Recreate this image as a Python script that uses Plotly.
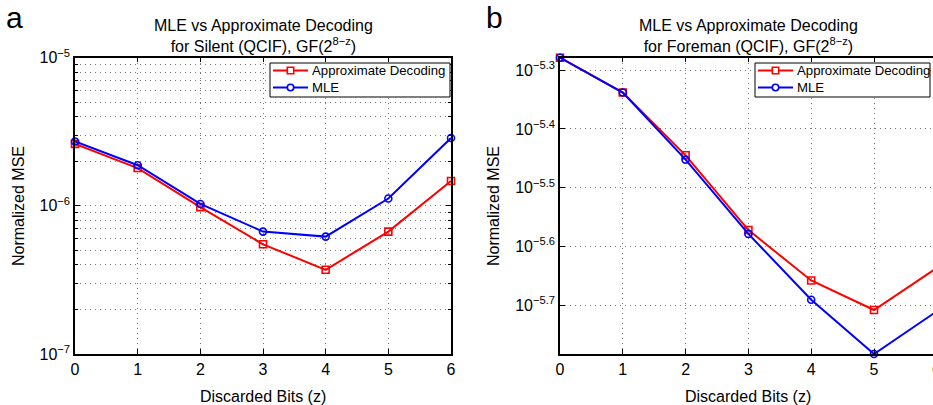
import numpy as np
import plotly.graph_objects as go

# ---------------- data ----------------
z_bits = [0, 1, 2, 3, 4, 5, 6]

silent_approx = [2.62e-6, 1.80e-6, 9.8e-7, 5.5e-7, 3.7e-7, 6.7e-7, 1.47e-6]
silent_mle = [2.72e-6, 1.88e-6, 1.03e-6, 6.7e-7, 6.2e-7, 1.12e-6, 2.87e-6]

foreman_approx = [5.26e-6, 4.59e-6, 3.59e-6, 2.68e-6, 2.20e-6, 1.96e-6, 2.31e-6]
foreman_mle = [5.26e-6, 4.59e-6, 3.53e-6, 2.64e-6, 2.04e-6, 1.65e-6, 1.95e-6]

series_names = ["Approximate Decoding", "MLE"]

left_major = [1e-7, 1e-6, 1e-5]
left_major_text = ["10<sup>\u22127</sup>", "10<sup>\u22126</sup>", "10<sup>\u22125</sup>"]
right_exps = [-5.3, -5.4, -5.5, -5.6, -5.7]
right_major_text = ["10<sup>\u22125.3</sup>", "10<sup>\u22125.4</sup>", "10<sup>\u22125.5</sup>",
                    "10<sup>\u22125.6</sup>", "10<sup>\u22125.7</sup>"]

# ---------------- layout constants ----------------
W, H = 933, 405
FONT = "Arial, Liberation Sans, Helvetica, sans-serif"
RED = "#ff0000"
BLUE = "#0000ff"
GRID = "#7a7a7a"
DOTS = "1px,4px"

def px(x):
    """page x pixel -> paper fraction"""
    return x / W

def py(y):
    """page y pixel -> paper fraction"""
    return 1 - y / H

left_dom = [px(75), px(451)]
right_dom = [px(560), 1.0]
y_dom = [py(354), py(57.7)]

fig = go.Figure()

styles = [
    dict(color=RED, symbol="square-open"),
    dict(color=BLUE, symbol="circle-open"),
]

def add_pair(xa, ya, approx, mle):
    for name, vals, st in zip(series_names, [approx, mle], styles):
        fig.add_trace(go.Scatter(
            x=z_bits, y=vals, name=name, mode="lines+markers",
            line=dict(color=st["color"], width=2),
            marker=dict(symbol=st["symbol"], size=7, color=st["color"],
                        line=dict(width=1.6, color=st["color"])),
            xaxis=xa, yaxis=ya, showlegend=False, cliponaxis=False))

add_pair("x", "y", silent_approx, silent_mle)
add_pair("x2", "y2", foreman_approx, foreman_mle)

left_minor = [m * 10.0 ** e for e in (-7, -6) for m in range(2, 10)]

axis_common = dict(
    showline=True, linecolor="black", linewidth=1.5,
    ticks="inside", ticklen=5, tickcolor="black", tickwidth=1,
    showgrid=True, gridcolor=GRID, griddash=DOTS, gridwidth=1,
    zeroline=False, automargin=False,
    tickfont=dict(family=FONT, size=16, color="black"),
)

lmin = np.log10(min(foreman_approx + foreman_mle))
lmax = np.log10(max(foreman_approx + foreman_mle))
x_right_end = (W - 560) / ((874 - 560) / 5)

fig.update_layout(
    width=W, height=H,
    margin=dict(l=0, r=0, t=0, b=0, autoexpand=False),
    paper_bgcolor="white", plot_bgcolor="white",
    font=dict(family=FONT, size=16, color="black"),
    showlegend=False,
    xaxis=dict(domain=left_dom, anchor="y", range=[0, 6], tickvals=z_bits,
               mirror="ticks", **axis_common),
    yaxis=dict(domain=y_dom, anchor="x", type="log", range=[-7, -5],
               tickvals=left_major, ticktext=left_major_text, mirror="ticks",
               minor=dict(tickvals=left_minor, showgrid=True, gridcolor=GRID,
                          griddash=DOTS, gridwidth=1, ticks="inside", ticklen=3,
                          tickcolor="black"),
               **axis_common),
    xaxis2=dict(domain=right_dom, anchor="y2", range=[0, x_right_end], tickvals=z_bits,
                mirror="ticks", **axis_common),
    yaxis2=dict(domain=y_dom, anchor="x2", type="log", range=[lmin, lmax],
                tickvals=[10 ** e for e in right_exps], ticktext=right_major_text,
                mirror=False, **axis_common),
)

ann = []
shapes = []

# ---- hand-drawn legends (compact MATLAB-style boxes) ----
def legend_box(x0, x1, y0, y1, line_x0, line_x1, text_x, rows_y):
    shapes.append(dict(type="rect", xref="paper", yref="paper",
                       x0=px(x0), x1=px(x1), y0=py(y1), y1=py(y0),
                       line=dict(color="black", width=1), fillcolor="white", layer="above"))
    mx = (line_x0 + line_x1) / 2
    for name, st, ry in zip(series_names, styles, rows_y):
        shapes.append(dict(type="line", xref="paper", yref="paper",
                           x0=px(line_x0), x1=px(line_x1), y0=py(ry), y1=py(ry),
                           line=dict(color=st["color"], width=2), layer="above"))
        r = 3.2
        kind = "rect" if st["symbol"].startswith("square") else "circle"
        shapes.append(dict(type=kind, xref="paper", yref="paper",
                           x0=px(mx - r), x1=px(mx + r), y0=py(ry + r), y1=py(ry - r),
                           line=dict(color=st["color"], width=1.6), fillcolor="white",
                           layer="above"))
        ann.append(dict(text=name, x=px(text_x), y=py(ry), xanchor="left", yanchor="middle",
                        font=dict(size=13.2, family=FONT)))

legend_box(270, 450, 63, 97, 273, 308, 309.5, [70.5, 87.5])
legend_box(755, 930, 63, 97, 758, 793, 795, [70.5, 87.5])

# panel letters
ann.append(dict(text="a", x=px(4), y=py(18), xanchor="left", yanchor="middle",
                font=dict(size=30, family=FONT)))
ann.append(dict(text="b", x=px(484), y=py(18), xanchor="left", yanchor="middle",
                font=dict(size=30, family=FONT)))
# titles
ann.append(dict(text="MLE vs Approximate Decoding<br>for Silent (QCIF), GF(2<sup>8\u2212z</sup>)",
                x=px(263), y=py(57), xanchor="center", yanchor="bottom",
                font=dict(size=16, family=FONT)))
ann.append(dict(text="MLE vs Approximate Decoding<br>for Foreman (QCIF), GF(2<sup>8\u2212z</sup>)",
                x=px(748), y=py(57), xanchor="center", yanchor="bottom",
                font=dict(size=16, family=FONT)))
# axis titles
for cx in (263, 748):
    ann.append(dict(text="Discarded Bits (z)", x=px(cx), y=py(396), xanchor="center",
                    yanchor="middle", font=dict(size=16, family=FONT)))
for cx in (18, 493):
    ann.append(dict(text="Normalized MSE", x=px(cx), y=py(206), xanchor="center",
                    yanchor="middle", textangle=-90, font=dict(size=16, family=FONT)))
# partially visible tick label "6" on the right panel
ann.append(dict(text="6", x=px(936), y=py(369), xanchor="center", yanchor="middle",
                font=dict(size=16, family=FONT)))
for a in ann:
    a.update(xref="paper", yref="paper", showarrow=False)
fig.update_layout(annotations=ann, shapes=shapes)

fig.write_html(
    "out.html",
    config={"displayModeBar": False},
    post_script="document.body.style.margin='0';document.body.style.overflow='hidden';",
)
